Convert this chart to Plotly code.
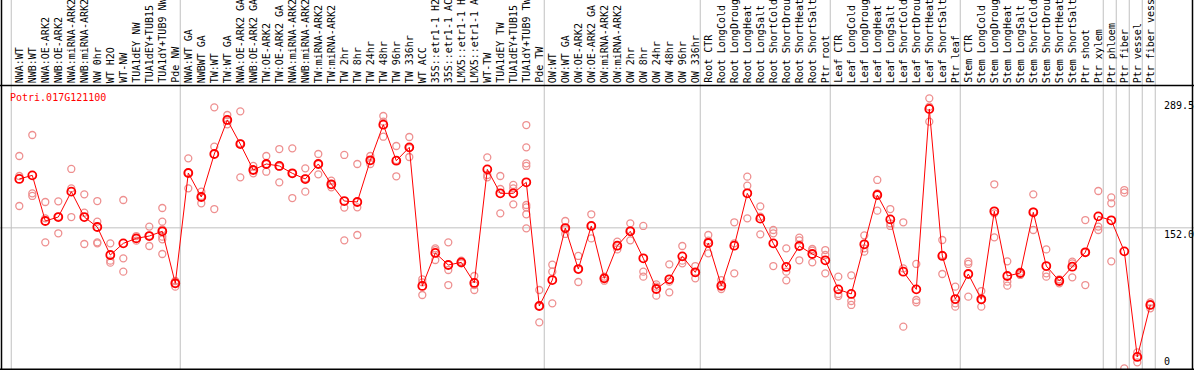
import plotly.graph_objects as go

gene = "Potri.017G121100"

categories = [
    "NWA:WT", "NWB:WT", "NWA:OE-ARK2", "NWB:OE-ARK2", "NWA:miRNA-ARK2", "NWB:miRNA-ARK2",
    "NW 0hr", "WT H2O", "WT-NW", "TUA1dEY NW", "TUA1dEY+TUB15", "TUA1dY+TUB9 NW", "Pde NW",
    "NWA:WT GA", "NWBWT GA", "TW:WT", "TW:WT GA", "NWA:OE-ARK2 GA", "NWB:OE-ARK2 GA",
    "TW:OE-ARK2", "TW:OE-ARK2 GA", "NWA:miRNA-ARK2", "NWB:miRNA-ARK2", "TW:miRNA-ARK2",
    "TW:miRNA-ARK2", "TW 2hr", "TW 8hr", "TW 24hr", "TW 48hr", "TW 96hr", "TW 336hr",
    "WT ACC", "35S::etr1-1 H2", "35S::etr1-1 AC", "LMX5::etr1-1 H", "LMX5::etr1-1 A",
    "WT-TW", "TUA1dEY TW", "TUA1dEY+TUB15", "TUA1dY+TUB9 TW", "Pde TW",
    "OW:WT", "OW:WT GA", "OW:OE-ARK2", "OW:OE-ARK2 GA", "OW:miRNA-ARK2", "OW:miRNA-ARK2",
    "OW 2hr", "OW 8hr", "OW 24hr", "OW 48hr", "OW 96hr", "OW 336hr",
    "Root CTR", "Root LongCold", "Root LongDroug", "Root LongHeat", "Root LongSalt",
    "Root ShortCold", "Root ShortDrou", "Root ShortHeat", "Root ShortSalt", "Ptr root",
    "Leaf CTR", "Leaf LongCold", "Leaf LongDroug", "Leaf LongHeat", "Leaf LongSalt",
    "Leaf ShortCold", "Leaf ShortDrou", "Leaf ShortHeat", "Leaf ShortSalt", "Ptr leaf",
    "Stem CTR", "Stem LongCold", "Stem LongDroug", "Stem LongHeat", "Stem LongSalt",
    "Stem ShortCold", "Stem ShortDrou", "Stem ShortHeat", "Stem ShortSalt", "Ptr shoot",
    "Ptr xylem", "Ptr phloem", "Ptr fiber", "Ptr vessel", "Ptr fiber vess",
]

means = [
    204.0, 207.8, 159.3, 163.5, 190.5, 163.5, 152.9, 123.1, 135.5, 140.8, 143.3, 148.3, 93.0,
    210.3, 184.8, 230.5, 266.7, 241.1, 213.5, 219.9, 217.8, 210.0, 203.9, 219.9, 198.3,
    180.5, 179.5, 223.8, 261.7, 223.4, 237.6, 90.2, 125.3, 112.5, 115.3, 93.4, 214.2,
    188.7, 188.7, 200.4, 68.9, 96.5, 151.8, 108.2, 154.0, 98.3, 133.0, 148.3, 119.6,
    87.0, 97.3, 121.7, 104.7, 135.9, 90.5, 133.0, 188.7, 161.8, 135.5, 110.4, 132.7,
    124.2, 117.5, 86.6, 81.7, 134.5, 186.9, 161.0, 105.4, 86.6, 278.4, 122.1, 76.3,
    102.9, 76.0, 169.6, 100.8, 104.0, 168.5, 111.4, 95.5, 110.7, 126.0, 164.2, 160.0,
    127.0, 14.7, 70.0,
]

replicates = [
    [228.4, 207.1, 175.2], [250.7, 188.7, 185.9], [179.5, 162.1, 136.6], [180.2, 163.9, 146.2],
    [214.6, 194.0, 163.5], [187.6, 168.1, 134.8], [180.5, 158.6, 136.6, 135.5],
    [135.5, 117.1, 115.0], [181.6, 119.6, 105.4], [143.3, 140.8, 138.4], [153.3, 143.7, 132.7],
    [173.1, 158.6, 150.4, 142.6, 139.8, 124.2], [95.5, 93.0, 89.5],
    [225.9, 210.7, 194.0], [190.5, 185.9, 178.1], [280.1, 238.3, 172.0], [272.0, 266.0, 262.1],
    [275.9, 241.9, 205.7], [217.8, 213.5, 210.0], [228.4, 219.9, 211.7], [235.8, 217.0, 200.4],
    [236.5, 210.0, 183.7], [215.3, 204.6, 190.5], [230.5, 219.9, 208.9], [202.2, 197.6, 195.1],
    [229.5, 173.5, 138.7], [219.9, 173.8, 144.4], [228.4, 223.4, 219.9], [270.9, 264.9, 248.9],
    [239.0, 224.1, 206.8], [248.6, 236.9, 227.3], [97.3, 94.1, 80.6], [130.2, 128.4, 117.8],
    [136.6, 107.2, 91.2], [117.1, 115.3, 114.3], [100.8, 91.2, 85.9], [227.0, 208.2, 205.7],
    [207.1, 193.3, 167.4], [197.6, 194.0, 177.0],
    [261.3, 237.6, 220.6, 217.8, 176.3, 173.8, 166.4, 151.5], [85.9, 68.9, 51.5],
    [112.8, 105.4, 71.7], [159.3, 150.4, 145.5], [122.1, 108.2, 94.4], [166.4, 154.0, 140.8],
    [100.1, 98.3, 95.8], [137.3, 132.7, 129.1], [156.8, 149.0, 138.7], [154.0, 105.4, 100.1],
    [91.9, 89.5, 79.9], [113.2, 94.8, 83.4], [132.7, 117.1, 114.3], [111.4, 104.3, 98.3],
    [144.4, 138.4, 124.9], [96.5, 89.5, 87.0], [157.9, 135.5, 103.6], [206.4, 196.8, 162.1],
    [174.9, 163.9, 145.1], [149.7, 146.2, 111.4], [130.2, 105.4, 96.2], [141.6, 138.7, 117.5],
    [129.5, 127.7, 115.3], [128.4, 123.1, 103.6], [100.1, 81.7, 79.5], [101.5, 74.2, 70.0],
    [144.0, 130.2, 126.7], [202.9, 188.7, 170.3], [172.0, 156.8, 154.0], [157.9, 108.9, 46.9],
    [113.6, 75.3, 72.8], [289.7, 280.8, 264.9], [139.1, 123.1, 102.9], [89.5, 71.7, 68.2],
    [116.0, 113.6, 78.8], [84.8, 75.3, 68.2], [198.3, 167.4, 141.9], [116.4, 94.8, 90.5],
    [105.4, 103.6, 101.9], [187.6, 169.2, 149.7], [129.1, 103.6, 100.1], [97.3, 95.8, 93.0],
    [116.0, 114.3, 99.4], [160.3, 126.0, 91.2], [191.2, 153.3, 149.7], [184.4, 178.1, 116.4],
    [192.2, 189.4, 2.6], [19.6, 15.0, 9.0], [72.8, 70.0, 66.4],
]

# index of the last sample of each group (-1 = leading separator)
group_ends = [-1, 12, 40, 52, 62, 72, 83, 84, 85, 86, 87]

y_tick_values = [289.5, 152.0, 0]
y_tick_labels = ["289.5", "152.0", "0"]

W, H = 1194, 370
FONT = "DejaVu Sans Mono"
GRAY = "#C0C0C0"

xs = list(range(len(categories)))
rep_x = [i for i, reps in enumerate(replicates) for _ in reps]
rep_y = [v for reps in replicates for v in reps]

fig = go.Figure()
fig.add_trace(go.Scatter(
    x=rep_x, y=rep_y, mode="markers",
    marker=dict(symbol="circle-open", size=7, color="#EE9090", line=dict(width=1.3)),
    hoverinfo="skip", showlegend=False,
))
fig.add_trace(go.Scatter(
    x=xs, y=means, mode="lines+markers",
    line=dict(color="#FF0000", width=1),
    marker=dict(symbol="circle-open", size=8, color="#FF0000", line=dict(width=1.8)),
    showlegend=False,
))

# plot-area geometry (pixels)
left_px, right_px, top_px, bottom_px = 1.5, 1192.5, 85.5, 369.3
x_first, x_step = 19.3, 13.0
xr = [(left_px - x_first) / x_step, (right_px - x_first) / x_step]
y_zero_px, y_scale = 370.8, 0.9405
yr = [(y_zero_px - bottom_px) / y_scale, (y_zero_px - top_px) / y_scale]

def px_x(p):
    return p / W

def px_y(p):
    return 1 - p / H

shapes = []
for g in group_ends:
    shapes.append(dict(type="line", xref="x", yref="paper", x0=g + 0.38, x1=g + 0.38,
                       y0=px_y(bottom_px), y1=1, line=dict(color=GRAY, width=1), layer="below"))
shapes.append(dict(type="line", xref="paper", yref="y", x0=0, x1=1, y0=152.0, y1=152.0,
                   line=dict(color=GRAY, width=1), layer="below"))
# black frame lines
for (x0, y0, x1, y1) in [
    (0, top_px, W, top_px), (0, bottom_px, W, bottom_px),
    (left_px, 0, left_px, bottom_px), (right_px, 0, right_px, bottom_px),
]:
    shapes.append(dict(type="line", xref="paper", yref="paper", x0=px_x(x0), x1=px_x(x1),
                       y0=px_y(y0), y1=px_y(y1), line=dict(color="black", width=1.5),
                       layer="above"))

annotations = []
for i, name in enumerate(categories):
    annotations.append(dict(x=i, y=px_y(84), xref="x", yref="paper", text=name,
                            textangle=-90, xanchor="center", yanchor="bottom", borderpad=0,
                            showarrow=False, font=dict(family=FONT, size=10, color="black")))
annotations.append(dict(x=px_x(8), y=px_y(97), xref="paper", yref="paper", text=gene,
                        xanchor="left", yanchor="middle", showarrow=False,
                        font=dict(family=FONT, size=10, color="#FF0000")))
for v, t in zip(y_tick_values, y_tick_labels):
    if v <= yr[0]:
        annotations.append(dict(x=px_x(1162), y=px_y(bottom_px), xref="paper", yref="paper",
                                text=t, xanchor="left", yanchor="bottom", showarrow=False,
                                font=dict(family=FONT, size=10, color="black")))
    else:
        annotations.append(dict(x=px_x(1162), y=v, xref="paper", yref="y", text=t,
                                xanchor="left", yanchor="top", yshift=1, showarrow=False,
                                font=dict(family=FONT, size=10, color="black")))

fig.update_layout(
    width=W, height=H,
    margin=dict(l=0, r=0, t=0, b=0),
    paper_bgcolor="white", plot_bgcolor="rgba(0,0,0,0)",
    xaxis=dict(domain=[px_x(left_px), px_x(right_px)], range=xr, showgrid=False,
               zeroline=False, showticklabels=False, ticks="", showline=False),
    yaxis=dict(domain=[px_y(bottom_px), px_y(top_px)], range=yr, showgrid=False,
               zeroline=False, showticklabels=False, ticks="", showline=False),
    shapes=shapes, annotations=annotations,
    showlegend=False,
)

fig.write_html(
    "out.html",
    config={"displayModeBar": False},
    post_script="document.body.style.margin='0';document.body.style.overflow='hidden';",
)
